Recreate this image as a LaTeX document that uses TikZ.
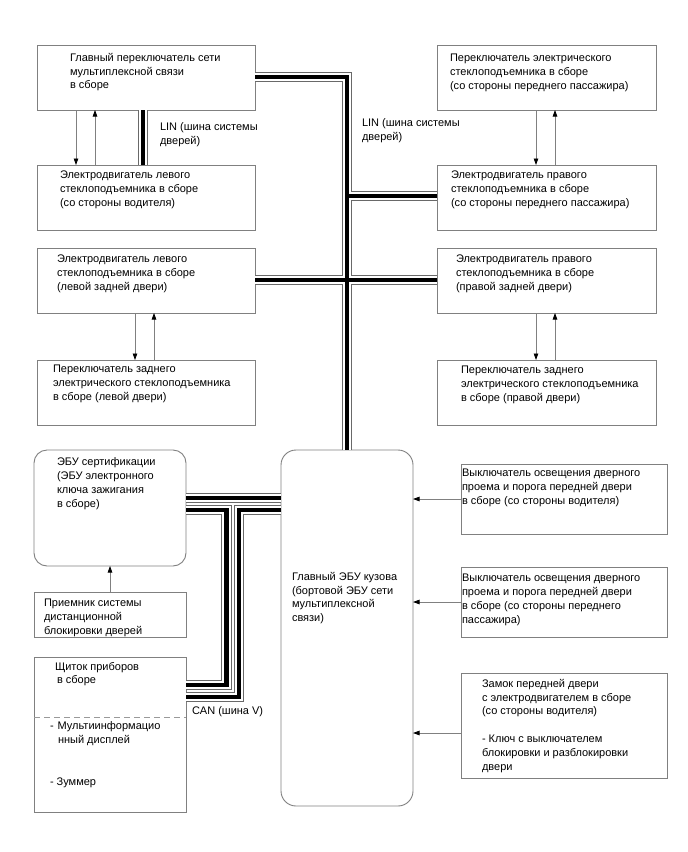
\documentclass[tikz,border=0pt]{standalone}
\usepackage{fontspec}
\setmainfont{Liberation Sans}
\usetikzlibrary{arrows.meta}
\definecolor{boxgray}{RGB}{128,128,128}
\definecolor{busgray}{RGB}{105,105,105}
\newcommand\fs{\fontsize{11pt}{13.9pt}\selectfont}
\tikzset{
  box/.style={draw=boxgray, line width=0.9pt, rectangle, inner sep=0pt, outer sep=0pt, anchor=north west},
  rbox/.style={box, rounded corners=13pt},
  txt/.style={anchor=north west, inner sep=0pt, outer sep=0pt, align=left, font=\fs, text=black},
  arr/.style={draw=boxgray, line width=0.8pt, -{Triangle[length=6.5pt,width=4.5pt,color=black]}},
  bus/.style={draw=black, line width=4.5pt, preaction={draw=busgray, line width=10.5pt}, preaction={draw=white, line width=8.5pt}},
  dashline/.style={draw=boxgray!80, line width=0.9pt, dash pattern=on 6pt off 4pt},
}
\begin{document}
\begin{tikzpicture}[x=1pt,y=-1pt]
\useasboundingbox[fill=white] (0,0) rectangle (688,852);

% boxes
\node[box, minimum width=218pt, minimum height=65pt] (sw1) at (37,45) {};
\node[box, minimum width=218pt, minimum height=65pt] (m1) at (37,165) {};
\node[box, minimum width=219pt, minimum height=65pt] (sw2) at (437,45) {};
\node[box, minimum width=219pt, minimum height=65pt] (m2) at (437,165) {};
\node[box, minimum width=218pt, minimum height=65pt] (m3) at (37,248) {};
\node[box, minimum width=218pt, minimum height=65pt] (sw3) at (37,360) {};
\node[box, minimum width=219pt, minimum height=65pt] (m4) at (437,248) {};
\node[box, minimum width=219pt, minimum height=65pt] (sw4) at (437,360) {};
\node[rbox, minimum width=152pt, minimum height=116pt] (cert) at (34,450) {};
\node[box, minimum width=152pt, minimum height=45pt] (recv) at (34,592) {};
\node[box, minimum width=152pt, minimum height=155pt] (cluster) at (34,657) {};
\node[rbox, rounded corners=15pt, minimum width=132pt, minimum height=356pt] (ecu) at (281,450) {};
\node[box, minimum width=206pt, minimum height=70pt] (r1) at (461,464) {};
\node[box, minimum width=206pt, minimum height=70pt] (r2) at (461,567) {};
\node[box, minimum width=206pt, minimum height=105pt] (r3) at (461,673) {};

% texts
\node[txt] (t1) at (70,53) {Главный переключатель сети\\мультиплексной связи\\в сборе};
\node[txt] (t2) at (60,171) {Электродвигатель левого\\стеклоподъемника в сборе\\(со стороны водителя)};
\node[txt] (t3) at (450,54) {Переключатель электрического\\стеклоподъемника в сборе\\(со стороны переднего пассажира)};
\node[txt] (t4) at (451,171) {Электродвигатель правого\\стеклоподъемника в сборе\\(со стороны переднего пассажира)};
\node[txt] (t5) at (57,255) {Электродвигатель левого\\стеклоподъемника в сборе\\(левой задней двери)};
\node[txt] (t6) at (53,365) {Переключатель заднего\\электрического стеклоподъемника\\в сборе (левой двери)};
\node[txt] (t7) at (456,255) {Электродвигатель правого\\стеклоподъемника в сборе\\(правой задней двери)};
\node[txt] (t8) at (461,366) {Переключатель заднего\\электрического стеклоподъемника\\в сборе (правой двери)};
\node[txt] (t9) at (57,458) {ЭБУ сертификации\\(ЭБУ электронного\\ключа зажигания\\в сборе)};
\node[txt] (t10) at (44,599) {Приемник системы\\дистанционной\\блокировки дверей};
\node[txt] (t11) at (55,662) {Щиток приборов\\\hspace*{2pt}в сборе};
\node[txt] (t12) at (50,722) {-\hspace{4pt}Мультиинформацио\\\hspace*{8pt}нный дисплей};
\node[txt] (t13) at (50,778) {- Зуммер};
\node[txt] (t14) at (292,572) {Главный ЭБУ кузова\\(бортовой ЭБУ сети\\мультиплексной\\связи)};
\node[txt] (t15) at (462,469) {Выключатель освещения дверного\\проема и порога передней двери\\в сборе (со стороны водителя)};
\node[txt] (t16) at (462,574) {Выключатель освещения дверного\\проема и порога передней двери\\в сборе (со стороны переднего\\пассажира)};
\node[txt] (t17) at (482,679) {Замок передней двери\\с электродвигателем в сборе\\(со стороны водителя)\\[13.9pt]- Ключ с выключателем\\блокировки и разблокировки\\двери};
\node[txt] (lin1) at (160,123) {LIN (шина системы\\дверей)};
\node[txt] (lin2) at (362,119) {LIN (шина системы\\дверей)};
\node[txt] (can) at (192,707) {CAN (шина V)};

% divider in cluster
\coordinate (dy) at (0,717);
\draw[dashline] (cluster.west |- dy) -- (cluster.east |- dy);

% LIN bus
\coordinate (j1) at (347,77);
\coordinate (j2) at (347,196);
\coordinate (j3) at (347,280);
\coordinate (xm1) at (143,0);
\draw[bus] (sw1.east |- j1) -- (j1) -- (j1 |- ecu.north)
  (sw1.south -| xm1) -- (m1.north -| xm1)
  (j2) -- (m2.west |- j2)
  (m3.east |- j3) -- (m4.west |- j3);

% CAN bus
\coordinate (c1) at (0,498);
\coordinate (c2) at (226.5,510);
\coordinate (c3) at (226.5,685);
\coordinate (c4) at (239,510);
\coordinate (c5) at (239,697);
\draw[bus] (cert.east |- c1) -- (ecu.west |- c1)
  (cert.east |- c2) -- (c2) -- (c3) -- (cluster.east |- c3)
  (ecu.west |- c4) -- (c4) -- (c5) -- (cluster.east |- c5);

% signal arrows
\coordinate (a1) at (76,0);
\coordinate (a2) at (95,0);
\coordinate (a3) at (536,0);
\coordinate (a4) at (555,0);
\coordinate (a5) at (135,0);
\coordinate (a6) at (154,0);
\coordinate (a7) at (110,0);
\draw[arr] (sw1.south -| a1) -- (m1.north -| a1);
\draw[arr] (m1.north -| a2) -- (sw1.south -| a2);
\draw[arr] (sw2.south -| a3) -- (m2.north -| a3);
\draw[arr] (m2.north -| a4) -- (sw2.south -| a4);
\draw[arr] (m3.south -| a5) -- (sw3.north -| a5);
\draw[arr] (sw3.north -| a6) -- (m3.south -| a6);
\draw[arr] (m4.south -| a3) -- (sw4.north -| a3);
\draw[arr] (sw4.north -| a4) -- (m4.south -| a4);
\draw[arr] (recv.north -| a7) -- (cert.south -| a7);
\coordinate (y1) at (0,499);
\coordinate (y2) at (0,602);
\coordinate (y3) at (0,733);
\draw[arr] (r1.west |- y1) -- (ecu.east |- y1);
\draw[arr] (r2.west |- y2) -- (ecu.east |- y2);
\draw[arr] (r3.west |- y3) -- (ecu.east |- y3);
\end{tikzpicture}
\end{document}
